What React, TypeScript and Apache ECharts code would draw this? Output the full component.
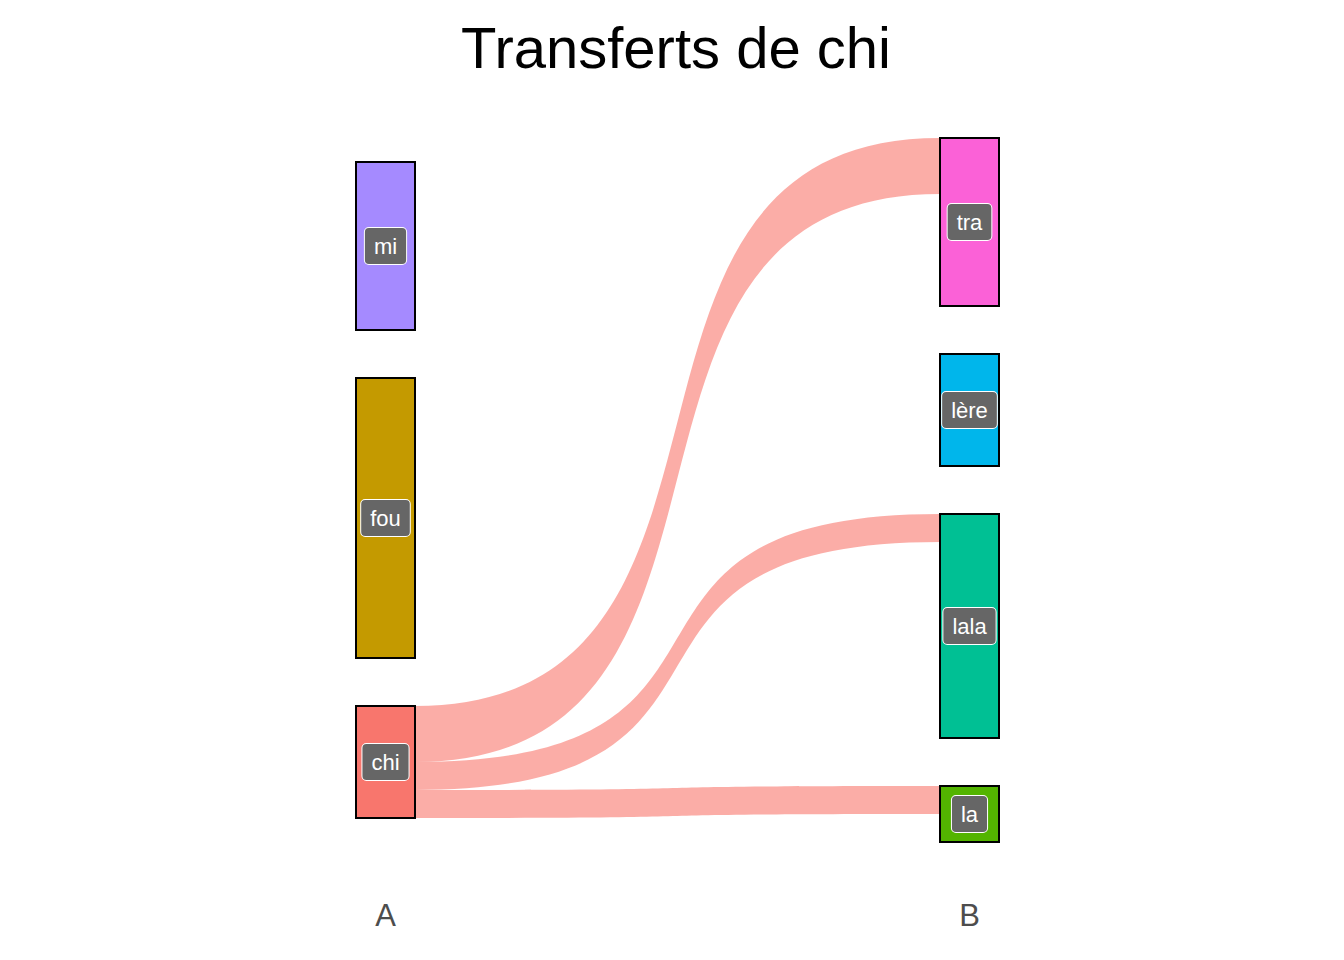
import React, { useEffect, useRef } from "react";
import * as echarts from "echarts";

// ---- data ----
const title = "Transferts de chi";
const axisLabels = ["A", "B"];
const leftNodes = ["mi", "fou", "chi"];
const leftValues = [3, 5, 2];
const rightNodes = ["tra", "lère", "lala", "la"];
const rightValues = [3, 2, 4, 1];
const flowSources = ["chi", "chi", "chi"];
const flowTargets = ["tra", "lala", "la"];
const flowValues = [1, 0.5, 0.5];
const nodeColors: Record<string, string> = {
  mi: "#A58AFF",
  fou: "#C49A00",
  chi: "#F8766D",
  tra: "#FB61D7",
  "lère": "#00B6EB",
  lala: "#00C094",
  la: "#53B400",
};

// ---- layout ----
const W = 1344;
const H = 960;
const SERIES_LEFT = 356;
const SERIES_TOP = 138;
const SERIES_W = 643;
const SERIES_H = 704;
const NODE_W = 59;
const GAP = 48;
const FONT = "'Liberation Sans', Arial, sans-serif";

export default function App() {
  const ref = useRef<HTMLDivElement>(null);
  useEffect(() => {
    if (!ref.current) return;
    const chart = echarts.init(ref.current, null, { renderer: "svg" });

    const columns = [
      { names: leftNodes, values: leftValues },
      { names: rightNodes, values: rightValues },
    ];
    let ky = Infinity;
    columns.forEach((c) => {
      const sum = c.values.reduce((a, b) => a + b, 0);
      const k = (SERIES_H - (c.names.length - 1) * GAP) / sum;
      if (k < ky) ky = k;
    });

    const nodes: any[] = [];
    columns.forEach((c, depth) => {
      const sum = c.values.reduce((a, b) => a + b, 0);
      const total = sum * ky + (c.names.length - 1) * GAP;
      let y = (SERIES_H - total) / 2; // vertically centred column
      c.names.forEach((name, i) => {
        nodes.push({
          name,
          value: c.values[i],
          depth,
          localY: y / SERIES_H,
          itemStyle: { color: nodeColors[name], borderColor: "#000", borderWidth: 2 },
        });
        y += c.values[i] * ky + GAP;
      });
    });

    const links = flowSources.map((s, i) => ({
      source: s,
      target: flowTargets[i],
      value: flowValues[i],
      lineStyle: { color: nodeColors[s], opacity: 0.6 },
    }));

    const colX = [SERIES_LEFT + NODE_W / 2, SERIES_LEFT + SERIES_W - NODE_W / 2];

    chart.setOption({
      animation: false,
      backgroundColor: "#ffffff",
      graphic: [
        {
          type: "text",
          x: 676,
          y: 47,
          style: {
            text: title,
            fontSize: 58,
            fontFamily: FONT,
            fill: "#000",
            align: "center",
            verticalAlign: "middle",
          },
        },
        ...axisLabels.map((t, i) => ({
          type: "text",
          x: colX[i],
          y: 915,
          style: {
            text: t,
            fontSize: 31,
            fontFamily: FONT,
            fill: "#4D4D4D",
            align: "center",
            verticalAlign: "middle",
          },
        })),
      ],
      series: [
        {
          type: "sankey",
          left: SERIES_LEFT,
          top: SERIES_TOP,
          width: SERIES_W,
          height: SERIES_H,
          nodeWidth: NODE_W,
          nodeGap: GAP,
          layoutIterations: 0,
          nodeAlign: "left",
          draggable: false,
          emphasis: { disabled: true },
          data: nodes,
          links,
          lineStyle: { curveness: 0.72 },
          label: {
            show: true,
            position: "inside",
            color: "#fff",
            fontSize: 22,
            fontFamily: FONT,
            lineHeight: 22,
            backgroundColor: "#666666",
            borderColor: "#fff",
            borderWidth: 1,
            borderRadius: 4,
            padding: [7, 9],
          },
        },
      ],
    });
    return () => chart.dispose();
  }, []);
  return (
    <div
      ref={ref}
      style={{ position: "absolute", left: 0, top: 0, width: W, height: H }}
    />
  );
}
